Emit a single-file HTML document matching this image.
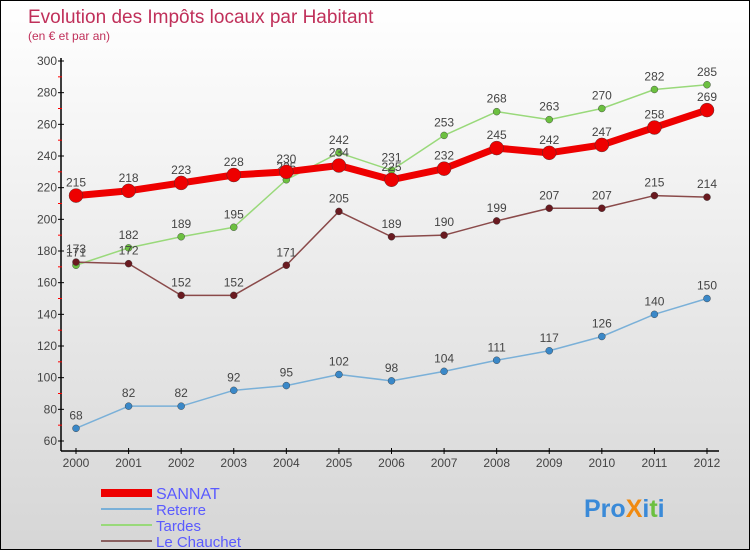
<!DOCTYPE html>
<html><head><meta charset="utf-8"><style>
body{margin:0}
#c{width:750px;height:550px;position:relative;box-sizing:border-box;border:1px solid #000;background:linear-gradient(#fff,#d6d6d6);font-family:"Liberation Sans",sans-serif;overflow:hidden}
svg{position:absolute;left:0;top:0}
</style></head><body>
<div id="c">
<svg id="s" width="750" height="550" font-family="Liberation Sans, sans-serif">
<text x="27" y="22" font-size="19" fill="#c0305a">Evolution des Impôts locaux par Habitant</text>
<text x="27" y="39" font-size="12" fill="#c0305a">(en € et par an)</text>
</svg>
</div>
<script>
const years=[2000,2001,2002,2003,2004,2005,2006,2007,2008,2009,2010,2011,2012];
const yTicks=[60,80,100,120,140,160,180,200,220,240,260,280,300];
const sannat=[215,218,223,228,230,234,225,232,245,242,247,258,269];
const reterre=[68,82,82,92,95,102,98,104,111,117,126,140,150];
const tardes=[171,182,189,195,225,242,231,253,268,263,270,282,285];
const chauchet=[173,172,152,152,171,205,189,190,199,207,207,215,214];
const ns="http://www.w3.org/2000/svg",s=document.getElementById('s');
const X=i=>75+i*(706-75)/12, Y=v=>440-(v-60)*380/240;
function el(t,a,p){const e=document.createElementNS(ns,t);for(const k in a)e.setAttribute(k,a[k]);(p||s).appendChild(e);return e;}
const ax=el('g',{});


el('line',{x1:60,y1:57,x2:60,y2:450,stroke:'#000','stroke-width':1.5},ax);
el('line',{x1:60,y1:450,x2:718,y2:450,stroke:'#000','stroke-width':1.5},ax);
yTicks.forEach(v=>{el('line',{x1:57,x2:63,y1:Y(v),y2:Y(v),stroke:'#000'},ax);
 if(v<300)el('line',{x1:57,x2:61,y1:Y(v+10),y2:Y(v+10),stroke:'#f00'},ax);
 const t=el('text',{x:56,y:Y(v)+4,'text-anchor':'end','font-size':12,fill:'#444'},ax);t.textContent=v;
 
 });
years.forEach((y,i)=>{el('line',{x1:X(i),x2:X(i),y1:447,y2:453,stroke:'#000'},ax);
 const t=el('text',{x:X(i),y:466,'text-anchor':'middle','font-size':12,fill:'#444'},ax);t.textContent=y;
 
 });
function series(d,col,w,r,name,dot){const g=el('g',{});
 
 
 el('polyline',{points:d.map((v,i)=>X(i)+','+Y(v)).join(' '),fill:'none',stroke:col,'stroke-width':w,'stroke-linejoin':'round'},g);
 d.forEach((v,i)=>{const c=el('circle',{cx:X(i),cy:Y(v),r:r,fill:dot,stroke:'#333','stroke-width':0.4},g);
  
  
  const t=el('text',{x:X(i),y:Y(v)-9,'text-anchor':'middle','font-size':12,fill:'#444'},g);t.textContent=v;});}
series(reterre,'#7ab0d8',1.5,3.5,'series-reterre','#3a88c8');
series(tardes,'#99d97a',1.5,3.5,'series-tardes','#6cc040');
series(chauchet,'#8a4a4a',1.5,3.5,'series-le-chauchet','#6a1a20');
series(sannat,'#ee0000',7,7,'series-sannat','#ee0000');
const lg=[['SANNAT','#ee0000',8],['Reterre','#7ab0d8',2],['Tardes','#99d97a',2],['Le Chauchet','#8a6060',2]];
lg.forEach((l,i)=>{const g=el('g',{});
 
 
 const y=492+i*16;el('line',{x1:100,x2:151,y1:y,y2:y,stroke:l[1],'stroke-width':l[2]},g);
 const t=el('text',{x:155,y:y+6,'font-size':i==0?16:15,fill:'#5a5aff'},g);t.textContent=l[0];});
const p=el('text',{x:583,y:516,'font-size':25,'font-weight':'bold',fill:'#3a8ad8'});


[['Pro','#3a8ad8'],['X','#f08a10'],['i','#3a8ad8'],['t','#6cc040'],['i','#3a8ad8']].forEach(a=>{const ts=el('tspan',{fill:a[1]},p);ts.textContent=a[0];});
</script>
</body></html>
